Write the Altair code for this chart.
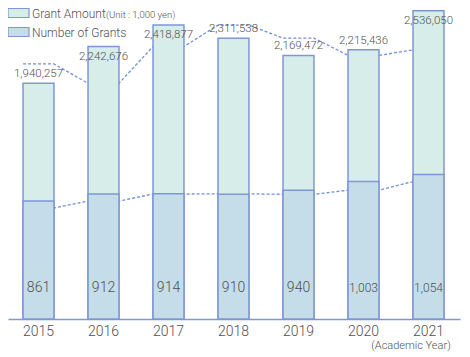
import altair as alt
import pandas as pd

# ---- data ----
years = ["2015", "2016", "2017", "2018", "2019", "2020", "2021"]
grant_amount = [1940257, 2242676, 2418877, 2311538, 2169472, 2215436, 2536050]  # thousand yen
num_grants = [861, 912, 914, 910, 940, 1003, 1054]
amount_before = 2099000   # dashed line start level (year before 2015, estimated)
grants_before = 810
amount_label_inside = ["2016", "2017", "2021"]

HW = 0.238  # half bar width in category units
REG = "Roboto, Liberation Sans, Arial, sans-serif"
W = 300
TXT = "#505050"
STROKE = "#7f97d5"

rows = []
for i, y in enumerate(years):
    rows.append(dict(idx=i, year=y, x0=i - HW, x1=i + HW,
                     amount=grant_amount[i], grants=num_grants[i],
                     amount_label=f"{grant_amount[i]:,}",
                     grants_label=f"{num_grants[i]:,}",
                     inside=y in amount_label_inside,
                     wide=num_grants[i] >= 1000))
bars = pd.DataFrame(rows)

line_rows = []
for i, y in enumerate(years):
    pa = amount_before if i == 0 else grant_amount[i - 1]
    pg = grants_before if i == 0 else num_grants[i - 1]
    for xx in (i - HW, i + HW):
        line_rows.append(dict(x=xx, amount=pa, grants=pg))
lines = pd.DataFrame(line_rows)

xscale = alt.Scale(domain=[(0 - 30.5) / 65, (452 - 30.5) / 65], nice=False, zero=False)
yA = alt.Scale(domain=[0, 2559670], nice=False, zero=True)
yN = alt.Scale(domain=[0, 2270], nice=False, zero=True)
xaxis = alt.Axis(labels=False, ticks=False, grid=False, title=None,
                 domainColor=STROKE, domainWidth=1.5)

base_l = alt.Chart(lines)
lineA = base_l.mark_line(color="#6f8fd8", strokeDash=[3, 2], strokeWidth=1.3).encode(
    x=alt.X("x:Q", scale=xscale, axis=xaxis),
    y=alt.Y("amount:Q", scale=yA, axis=None))
lineN = base_l.mark_line(color="#6f8fd8", strokeDash=[3, 2], strokeWidth=1.3).encode(
    x=alt.X("x:Q", scale=xscale, axis=xaxis),
    y=alt.Y("grants:Q", scale=yN, axis=None))

base_b = alt.Chart(bars)
barA = base_b.mark_rect(fill="#d6edea", stroke=STROKE, strokeWidth=1.5).encode(
    x=alt.X("x0:Q", scale=xscale, axis=xaxis), x2="x1:Q",
    y=alt.Y("amount:Q", scale=yA, axis=None), y2=alt.datum(0))
barN = base_b.mark_rect(fill="#c5dde9", stroke=STROKE, strokeWidth=1.5).encode(
    x=alt.X("x0:Q", scale=xscale, axis=xaxis), x2="x1:Q",
    y=alt.Y("grants:Q", scale=yN, axis=None), y2=alt.datum(0))

txtA_above = base_b.transform_filter("!datum.inside").mark_text(
    font=REG, fontWeight=W, fontSize=11.5, color=TXT, baseline="middle", dy=-9).encode(
    x=alt.X("idx:Q", scale=xscale, axis=xaxis),
    y=alt.Y("amount:Q", scale=yA, axis=None), text="amount_label:N")
txtA_in = base_b.transform_filter("datum.inside").mark_text(
    font=REG, fontWeight=W, fontSize=11.5, color=TXT, baseline="middle", dy=10).encode(
    x=alt.X("idx:Q", scale=xscale, axis=xaxis),
    y=alt.Y("amount:Q", scale=yA, axis=None), text="amount_label:N")

txtN_reg = base_b.transform_filter("!datum.wide").mark_text(
    font=REG, fontWeight=W, fontSize=14, color=TXT, baseline="middle").encode(
    x=alt.X("idx:Q", scale=xscale, axis=xaxis),
    y=alt.value(280), text="grants_label:N")
txtN_wide = base_b.transform_filter("datum.wide").mark_text(
    font=REG, fontWeight=W, fontSize=12, color=TXT, baseline="middle").encode(
    x=alt.X("idx:Q", scale=xscale, axis=xaxis),
    y=alt.value(280), text="grants_label:N")

yearTxt = base_b.mark_text(font=REG, fontWeight=W, fontSize=14, color=TXT, baseline="middle").encode(
    x=alt.X("idx:Q", scale=xscale, axis=xaxis),
    y=alt.value(324), text="year:N")

one = pd.DataFrame({"a": [0]})
acad = alt.Chart(one).mark_text(font=REG, fontWeight=W, fontSize=11, color=TXT, baseline="middle",
                                align="center", text="(Academic Year)").encode(
    x=alt.value(403), y=alt.value(338))

leg1 = alt.Chart(one).mark_rect(fill="#d6edea", stroke=STROKE, strokeWidth=1.2).encode(
    x=alt.value(0), x2=alt.value(21), y=alt.value(0.5), y2=alt.value(9.5))
leg2 = alt.Chart(one).mark_rect(fill="#c5dde9", stroke=STROKE, strokeWidth=1.2).encode(
    x=alt.value(0), x2=alt.value(21), y=alt.value(19.5), y2=alt.value(28.5))
legT1 = alt.Chart(one).mark_text(font=REG, fontWeight=W, fontSize=12, color=TXT, align="left",
                                 baseline="middle", text="Grant Amount").encode(
    x=alt.value(24), y=alt.value(5.5))
legT1b = alt.Chart(one).mark_text(font=REG, fontWeight=W, fontSize=9.5, color=TXT, align="left",
                                  baseline="middle", text="(Unit : 1,000 yen)").encode(
    x=alt.value(98), y=alt.value(6.5))
legT2 = alt.Chart(one).mark_text(font=REG, fontWeight=W, fontSize=12, color=TXT, align="left",
                                 baseline="middle", text="Number of Grants").encode(
    x=alt.value(24), y=alt.value(24.5))

chart = alt.layer(
    lineA, lineN, barA, barN, txtA_above, txtA_in, txtN_reg, txtN_wide, yearTxt,
    acad, leg1, leg2, legT1, legT1b, legT2
).resolve_scale(y="independent").properties(
    width=452, height=311,
    autosize=alt.AutoSizeParams(type="none"),
    padding={"left": 0, "top": 0, "right": 2, "bottom": 38},
).configure_view(strokeWidth=0)

chart.save("out.html", embed_options={"renderer": "svg", "actions": False})
